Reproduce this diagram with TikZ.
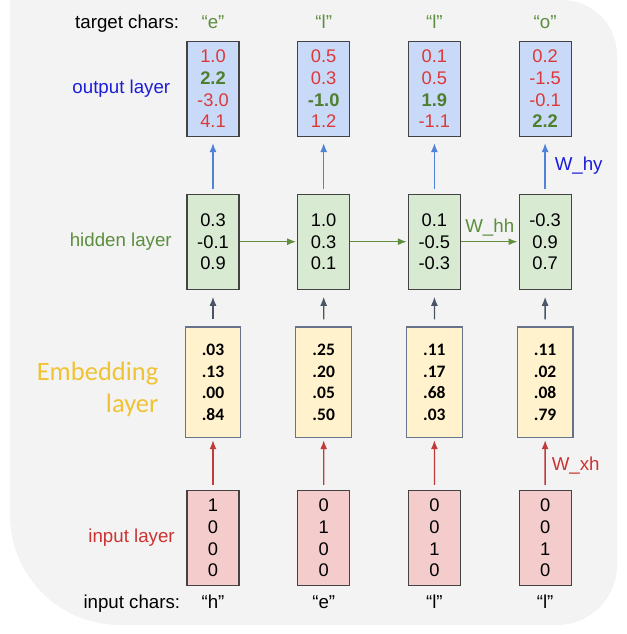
\documentclass[tikz,border=0pt]{standalone}
\usepackage{fontspec}
\setmainfont{Liberation Sans}
\newfontfamily\embfont{Carlito}
\usetikzlibrary{positioning}
\usetikzlibrary{arrows.meta}

\definecolor{bgcol}{HTML}{F3F3F3}
\definecolor{cellline}{HTML}{434343}
\definecolor{embline}{HTML}{66738A}
\definecolor{outfill}{HTML}{C9DAF8}
\definecolor{hidfill}{HTML}{D9EAD3}
\definecolor{embfill}{HTML}{FFF2CC}
\definecolor{infill}{HTML}{F4CCCC}
\definecolor{valred}{HTML}{DD3838}
\definecolor{valgreen}{HTML}{4E7F2E}
\definecolor{outblue}{HTML}{1C1CD8}
\definecolor{hidgreen}{HTML}{5B8F3C}
\definecolor{embyellow}{HTML}{F1C232}
\definecolor{inred}{HTML}{CC3333}
\definecolor{uparrow}{HTML}{5083D8}
\definecolor{midarrow}{HTML}{4A5568}
\definecolor{inarrow}{HTML}{C23B3B}
\definecolor{hidarrow}{HTML}{5E8E3E}

\newcommand{\badval}[1]{\textcolor{valred}{#1}}
\newcommand{\goodval}[1]{\textcolor{valgreen}{\textbf{#1}}}

\begin{document}
\begin{tikzpicture}[
    x=1pt, y=-1pt,
    node distance=56.5pt and 57.5pt,
    cell/.style={draw=cellline,line width=1.2pt,minimum width=52pt,minimum height=95pt,inner sep=0pt,align=center,font=\fontsize{18.3}{21.7}\selectfont},
    outcell/.style={cell,fill=outfill},
    hidcell/.style={cell,fill=hidfill},
    embcell/.style={cell,draw=embline,fill=embfill,minimum width=55.7pt,minimum height=110.7pt,font=\embfont\bfseries\fontsize{17.5}{21.7}\selectfont},
    incell/.style={cell,fill=infill},
    lbl/.style={inner sep=0pt,font=\fontsize{18.7}{22}\selectfont},
    arr/.style={line width=1.3pt,-{Latex[length=9pt,width=7pt]}}
    ]

    \useasboundingbox (0,0) rectangle (626,634);
    \fill[bgcol] (10,300) -- (10,0) [rounded corners=55pt] -- (617,0) [rounded corners=60pt] -- (617,625) [rounded corners=110pt] -- (10,625) [rounded corners=90pt] -- (10,300) -- cycle;

    \node[outcell] (o1) at (213,89) {\badval{1.0}\\\goodval{2.2}\\\badval{-3.0}\\\badval{4.1}};
    \node[outcell, right=of o1] (o2) {\badval{0.5}\\\badval{0.3}\\\goodval{-1.0}\\\badval{1.2}};
    \node[outcell, right=of o2] (o3) {\badval{0.1}\\\badval{0.5}\\\goodval{1.9}\\\badval{-1.1}};
    \node[outcell, right=of o3] (o4) {\badval{0.2}\\\badval{-1.5}\\\badval{-0.1}\\\goodval{2.2}};

    \node[hidcell, below=of o1] (h1) {0.3\\-0.1\\0.9};
    \node[hidcell, right=of h1] (h2) {1.0\\0.3\\0.1};
    \node[hidcell, right=of h2] (h3) {0.1\\-0.5\\-0.3};
    \node[hidcell, right=of h3] (h4) {-0.3\\0.9\\0.7};

    \node[embcell, below=36.5pt of h1] (e1) {.03\\.13\\.00\\.84};
    \node[embcell, right=53.8pt of e1] (e2) {.25\\.20\\.05\\.50};
    \node[embcell, right=53.8pt of e2] (e3) {.11\\.17\\.68\\.03};
    \node[embcell, right=53.8pt of e3] (e4) {.11\\.02\\.08\\.79};

    \node[incell, below=51.7pt of e1] (i1) {1\\0\\0\\0};
    \node[incell, right=of i1] (i2) {0\\1\\0\\0};
    \node[incell, right=of i2] (i3) {0\\0\\1\\0};
    \node[incell, right=of i3] (i4) {0\\0\\1\\0};

    % row labels
    \node[lbl, text=outblue, left=16pt of o1] (outlabel) {output layer};
    \node[lbl, text=hidgreen, left=14.5pt of h1] (hidlabel) {hidden layer};
    \node[lbl, text=embyellow, align=right, font=\embfont\fontsize{26.5}{32}\selectfont, left=26pt of e1, yshift=-7pt] (emblabel) {Embedding\\layer};
    \node[lbl, text=inred, left=11.5pt of i1] (inlabel) {input layer};

    % characters
    \node[lbl, text=hidgreen, above=12pt of o1] (t1) {“e”};
    \node[lbl, text=hidgreen, above=12pt of o2] (t2) {“l”};
    \node[lbl, text=hidgreen, above=12pt of o3] (t3) {“l”};
    \node[lbl, text=hidgreen, above=12pt of o4] (t4) {“o”};
    \node[lbl, base left=22pt of t1] (targetlabel) {target chars:};
    \node[lbl, below=9pt of i1] (c1) {“h”};
    \node[lbl, below=9pt of i2] (c2) {“e”};
    \node[lbl, below=9pt of i3] (c3) {“l”};
    \node[lbl, below=9pt of i4] (c4) {“l”};
    \node[lbl, base left=21pt of c1] (inputlabel) {input chars:};

    \path (h1) edge[arr, uparrow, shorten <=5pt, shorten >=6pt] (o1)
    (h2) edge[arr, uparrow, shorten <=5pt, shorten >=6pt] (o2)
    (h3) edge[arr, uparrow, shorten <=5pt, shorten >=6pt] (o3)
    (h4) edge[arr, uparrow, shorten <=5pt, shorten >=6pt] node[lbl, text=outblue, right=9pt] (why) {W\_hy} (o4)
    (h1) edge[arr, hidarrow, shorten >=1pt] (h2)
    (h2) edge[arr, hidarrow, shorten >=1pt] (h3)
    (h3) edge[arr, hidarrow, shorten >=1pt] node[lbl, text=hidgreen, above=5pt] (whh) {W\_hh} (h4)
    (e1) edge[arr, midarrow, shorten <=7pt, shorten >=7pt] (h1)
    (e2) edge[arr, midarrow, shorten <=7pt, shorten >=7pt] (h2)
    (e3) edge[arr, midarrow, shorten <=7pt, shorten >=7pt] (h3)
    (e4) edge[arr, midarrow, shorten <=7pt, shorten >=7pt] (h4)
    (i1) edge[arr, inarrow, shorten <=5pt, shorten >=2pt] (e1)
    (i2) edge[arr, inarrow, shorten <=5pt, shorten >=2pt] (e2)
    (i3) edge[arr, inarrow, shorten <=5pt, shorten >=2pt] (e3)
    (i4) edge[arr, inarrow, shorten <=5pt, shorten >=2pt] node[lbl, text=inred, right=6pt, yshift=-2pt] (wxh) {W\_xh} (e4)
    ;

  \end{tikzpicture}
\end{document}
